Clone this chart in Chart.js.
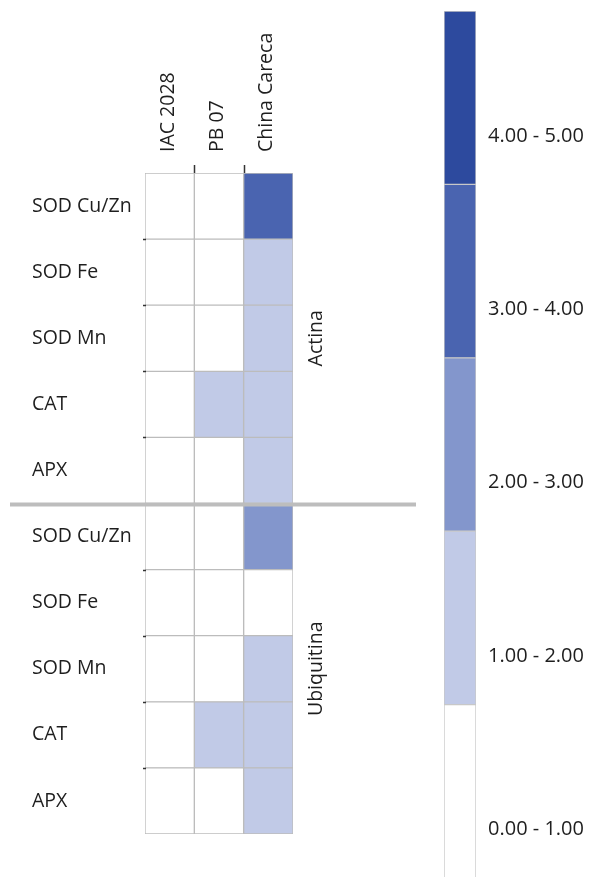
<!DOCTYPE html>
<html><head><meta charset="utf-8">
<script src="https://cdn.jsdelivr.net/npm/chart.js@4"></script>
<style>
html,body{margin:0;padding:0;background:#fff;overflow:hidden;width:592px;height:877px;}
</style></head><body>
<div style="position:absolute;left:0;top:0;width:420px;height:877px"><canvas id="main"></canvas></div>
<div style="position:absolute;left:420px;top:0;width:172px;height:880px"><canvas id="leg"></canvas></div>
<script>
// ---- data ----
const genotypes = ['IAC 2028', 'PB 07', 'China Careca'];
const genes = ['SOD Cu/Zn', 'SOD Fe', 'SOD Mn', 'CAT', 'APX'];
const groups = ['Actina', 'Ubiquitina'];
// values per genotype, rows: Actina (5 genes) then Ubiquitina (5 genes)
const iac2028 = [0.62, 0.48, 0.55, 0.71, 0.66, 0.58, 0.45, 0.63, 0.52, 0.69];
const pb07 = [0.57, 0.61, 0.49, 1.42, 0.73, 0.66, 0.54, 0.81, 1.35, 0.60];
const chinaCareca = [3.41, 1.37, 1.52, 1.46, 1.28, 2.47, 0.86, 1.31, 1.58, 1.44];
const legendRanges = ['0.00 - 1.00', '1.00 - 2.00', '2.00 - 3.00', '3.00 - 4.00', '4.00 - 5.00'];
const binColors = ['#ffffff', '#c1cae7', '#8396cc', '#4a64b0', '#2d4a9e'];

const FONT = '"Open Sans", sans-serif';
const FS = 19.5;
const TXT = '#1e1e1e';
const columns = [iac2028, pb07, chinaCareca];
const rowLabels = groups.flatMap(() => genes);
const colorFor = v => binColors[Math.max(0, Math.min(binColors.length - 1, Math.floor(v)))];

const overlay = {
  id: 'overlay',
  afterDraw(chart) {
    const { ctx, chartArea, scales: { x, y } } = chart;
    ctx.save();
    // small tick marks at column boundaries (top)
    ctx.strokeStyle = '#333';
    ctx.lineWidth = 1.5;
    for (let i = 1; i < genotypes.length; i++) {
      const px = Math.round(x.getPixelForValue(i)) + 0.5;
      ctx.beginPath(); ctx.moveTo(px, chartArea.top - 8); ctx.lineTo(px, chartArea.top); ctx.stroke();
    }
    // small tick marks at row boundaries (left)
    for (let r = 1; r < rowLabels.length; r++) {
      if (r % genes.length === 0) continue;
      const py = Math.round((y.getPixelForValue(r - 1) + y.getPixelForValue(r)) / 2) + 0.5;
      ctx.beginPath(); ctx.moveTo(chartArea.left - 2, py); ctx.lineTo(chartArea.left + 1, py); ctx.stroke();
    }
    // group separator
    const sepY = (y.getPixelForValue(genes.length - 1) + y.getPixelForValue(genes.length)) / 2 + 1;
    ctx.strokeStyle = '#bdbdbd';
    ctx.lineWidth = 4;
    ctx.beginPath(); ctx.moveTo(10, sepY); ctx.lineTo(416, sepY); ctx.stroke();
    // group labels
    ctx.fillStyle = TXT;
    ctx.font = FS + 'px ' + FONT;
    ctx.textAlign = 'center';
    ctx.textBaseline = 'middle';
    groups.forEach((g, gi) => {
      const cy = (y.getPixelForValue(gi * genes.length) + y.getPixelForValue(gi * genes.length + genes.length - 1)) / 2;
      ctx.save();
      ctx.translate(chartArea.right + 23, cy);
      ctx.rotate(-Math.PI / 2);
      ctx.fillText(g, 0, 0);
      ctx.restore();
    });
    ctx.restore();
  }
};

new Chart(document.getElementById('main'), {
  type: 'bar',
  data: {
    labels: rowLabels,
    datasets: columns.map((vals, i) => ({
      label: genotypes[i],
      data: vals.map(() => 1),
      backgroundColor: vals.map(colorFor),
      borderColor: '#bcbcbc',
      borderWidth: 1,
      borderSkipped: false,
      barPercentage: 1,
      categoryPercentage: 1
    }))
  },
  options: {
    indexAxis: 'y',
    responsive: true,
    maintainAspectRatio: false,
    animation: false,
    layout: { padding: { left: 32, top: 0, right: 127, bottom: 43 } },
    plugins: { legend: { display: false }, tooltip: { enabled: false } },
    scales: {
      x: {
        type: 'linear', position: 'top', stacked: true, min: 0, max: genotypes.length,
        grid: { display: false, drawTicks: false }, border: { display: false },
        afterBuildTicks: s => { s.ticks = genotypes.map((_, i) => ({ value: i + 0.5 })); },
        ticks: { autoSkip: false, minRotation: 90, maxRotation: 90, padding: 21, labelOffset: 22, color: TXT,
          font: { family: FONT, size: FS }, callback: (v, i) => genotypes[i] },
        afterFit: s => { s.height = 173; s.paddingLeft = 0; s.paddingRight = 0; }
      },
      y: {
        stacked: true,
        grid: { display: false, drawTicks: false }, border: { display: false },
        ticks: { crossAlign: 'far', color: TXT, font: { family: FONT, size: FS }, autoSkip: false },
        afterFit: s => { s.width = 113; s.paddingTop = 0; s.paddingBottom = 0; }
      }
    }
  },
  plugins: [overlay]
});

new Chart(document.getElementById('leg'), {
  type: 'bar',
  data: {
    labels: [''],
    datasets: legendRanges.map((r, i) => ({
      label: r,
      data: [1],
      backgroundColor: binColors[i],
      borderColor: '#c8c8c8',
      borderWidth: 1,
      borderSkipped: false,
      barPercentage: 1,
      categoryPercentage: 1
    }))
  },
  options: {
    responsive: true,
    maintainAspectRatio: false,
    animation: false,
    layout: { padding: { left: 24, top: 11, right: 0, bottom: 2 } },
    plugins: { legend: { display: false }, tooltip: { enabled: false } },
    scales: {
      x: { display: false, stacked: true },
      y: {
        position: 'right', stacked: true, min: 0, max: legendRanges.length,
        grid: { display: false, drawTicks: false }, border: { display: false },
        afterBuildTicks: s => { s.ticks = legendRanges.map((_, i) => ({ value: i + 0.28 })); },
        ticks: { padding: 12, color: TXT, font: { family: FONT, size: 20 }, autoSkip: false,
          callback: (v, i) => legendRanges[i] },
        afterFit: s => { s.width = 116; s.paddingTop = 0; s.paddingBottom = 0; }
      }
    }
  }
});
</script>
</body></html>
